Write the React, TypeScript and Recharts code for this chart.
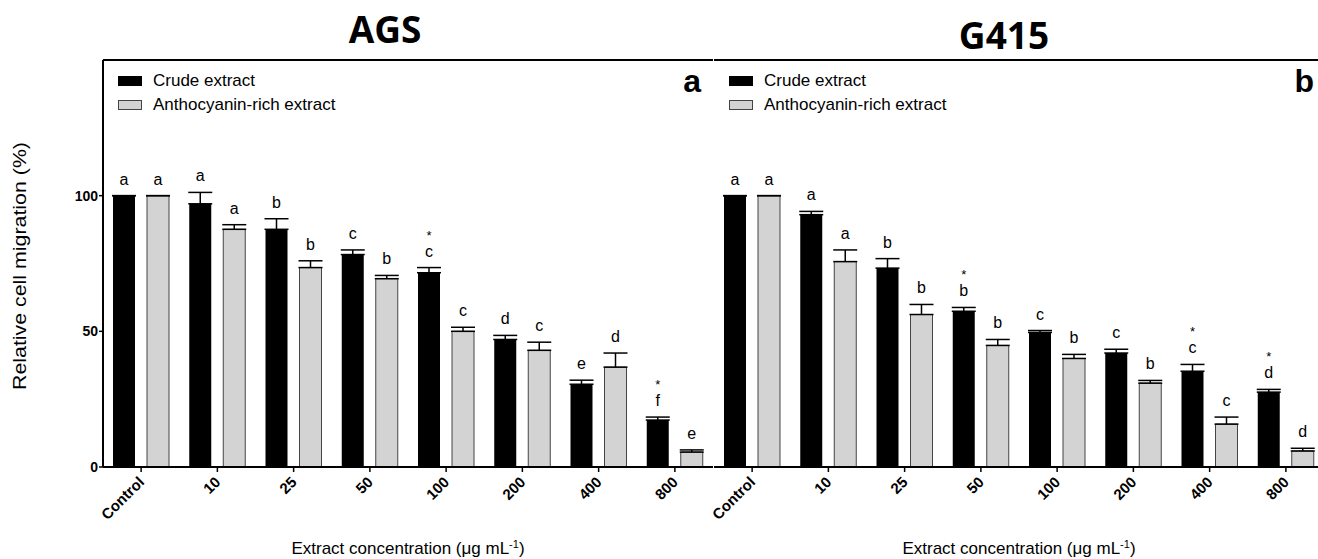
import React from 'react'
import { BarChart, Bar, XAxis, YAxis, ErrorBar, LabelList, Legend, ReferenceLine } from 'recharts'

const categories = ['Control', '10', '25', '50', '100', '200', '400', '800']
const yTicks = [0, 50, 100]
const seriesNames = ['Crude extract', 'Anthocyanin-rich extract']

// AGS
const agsCrude = [100, 97, 87.6, 78.3, 71.6, 47, 30.5, 17.3]
const agsCrudeErr = [0, 4.2, 3.9, 1.7, 1.9, 1.5, 1.5, 1.1]
const agsAntho = [100, 87.6, 73.5, 69.4, 50, 43, 36.8, 5.5]
const agsAnthoErr = [0, 1.7, 2.5, 1.2, 1.5, 3, 5.2, 0.8]
const agsCrudeLetters = ['a', 'a', 'b', 'c', 'c', 'd', 'e', 'f']
const agsAnthoLetters = ['a', 'a', 'b', 'b', 'c', 'c', 'd', 'e']
const agsCrudeStars = [false, false, false, false, true, false, false, true]

// G415
const g415Crude = [100, 93, 73.3, 57.4, 49.6, 42, 35.3, 27.6]
const g415CrudeErr = [0, 1.2, 3.5, 1.4, 0.7, 1.4, 2.5, 1]
const g415Antho = [100, 75.7, 56.2, 44.8, 40, 30.9, 15.8, 5.9]
const g415AnthoErr = [0, 4.3, 3.7, 2.2, 1.5, 1, 2.6, 1]
const g415CrudeLetters = ['a', 'a', 'b', 'b', 'c', 'c', 'c', 'd']
const g415AnthoLetters = ['a', 'a', 'b', 'b', 'b', 'b', 'c', 'd']
const g415CrudeStars = [false, false, false, true, false, false, true, true]

const FONT = '"Liberation Sans", Arial, sans-serif'
const GRAY = '#d3d3d3'

type Row = {
  cat: string
  crude: number
  crudeErr: number
  antho: number
  anthoErr: number
  crudeLetter: string
  anthoLetter: string
  crudeStar: boolean
}

function buildRows(crude: number[], crudeErr: number[], antho: number[], anthoErr: number[],
  crudeLetters: string[], anthoLetters: string[], crudeStars: boolean[]): Row[] {
  return categories.map((cat, i) => ({
    cat,
    crude: crude[i],
    crudeErr: crudeErr[i],
    antho: antho[i],
    anthoErr: anthoErr[i],
    crudeLetter: crudeLetters[i],
    anthoLetter: anthoLetters[i],
    crudeStar: crudeStars[i],
  }))
}

const agsRows = buildRows(agsCrude, agsCrudeErr, agsAntho, agsAnthoErr, agsCrudeLetters, agsAnthoLetters, agsCrudeStars)
const g415Rows = buildRows(g415Crude, g415CrudeErr, g415Antho, g415AnthoErr, g415CrudeLetters, g415AnthoLetters, g415CrudeStars)

// letter (and optional asterisk) sitting above the error bar cap
const letterLabel = (rows: Row[], series: 'crude' | 'antho') => (props: any) => {
  const vb = props.viewBox && props.viewBox.width != null ? props.viewBox : props
  const { x, y, width, height } = vb
  const row = rows[props.index]
  if (!row) return null
  const val = row[series]
  const err = series === 'crude' ? row.crudeErr : row.anthoErr
  const pxPerUnit = Math.abs(height) / val
  const capY = y - err * pxPerUnit
  const cx = x + width / 2
  const letter = series === 'crude' ? row.crudeLetter : row.anthoLetter
  const star = series === 'crude' && row.crudeStar
  return (
    <g>
      <text x={cx} y={capY - 11} textAnchor="middle" fontSize={16} fontFamily={FONT} fill="#000">{letter}</text>
      {star && <text x={cx} y={capY - 28} textAnchor="middle" fontSize={13} fontFamily={FONT} fill="#000">*</text>}
    </g>
  )
}

const XTick = (props: any) => {
  const { x, y, payload } = props
  const ax = x + 4
  const ay = y + 9
  return (
    <text x={ax} y={ay} transform={`rotate(-45, ${ax}, ${ay})`} textAnchor="end"
      fontSize={15} fontWeight="bold" fontFamily={FONT} fill="#000">{payload.value}</text>
  )
}

const legendContent = (props: any) => {
  const items = [...(props.payload || [])].sort(
    (a: any, b: any) => seriesNames.indexOf(a.value) - seriesNames.indexOf(b.value))
  return (
    <div style={{ fontFamily: FONT, fontSize: 17, color: '#000' }}>
      {items.map((it: any) => {
        const crude = it.value === seriesNames[0]
        return (
          <div key={it.value} style={{ display: 'flex', alignItems: 'center', height: 24 }}>
            <span style={{
              display: 'inline-block', width: 24, height: 10, boxSizing: 'border-box',
              background: crude ? '#000' : GRAY, border: crude ? 'none' : '1px solid #444', marginRight: 11,
            }} />
            <span style={{ whiteSpace: 'nowrap' }}>{it.value}</span>
          </div>
        )
      })}
    </div>
  )
}

function Panel({ rows, left, width, marginLeft, marginRight, yAxisWidth, showY }: {
  rows: Row[]; left: number; width: number; marginLeft: number; marginRight: number; yAxisWidth: number; showY: boolean
}) {
  return (
    <div style={{ position: 'absolute', left, top: 0 }}>
      <BarChart width={width} height={559} data={rows}
        margin={{ top: 60, right: marginRight, bottom: 32, left: marginLeft }}
        barCategoryGap={10} barGap={12}>
        <XAxis dataKey="cat" height={60} interval={0} tick={<XTick />} tickSize={5}
          axisLine={{ stroke: '#000', strokeWidth: 2 }} tickLine={{ stroke: '#000', strokeWidth: 1.5 }} />
        <YAxis width={yAxisWidth} domain={[0, 150]} ticks={yTicks} allowDataOverflow
          tick={showY ? { fontSize: 14, fontWeight: 'bold', fontFamily: FONT, fill: '#000' } : false}
          tickLine={showY ? { stroke: '#000', strokeWidth: 1.5 } : false} tickSize={4} tickMargin={1}
          axisLine={{ stroke: '#000', strokeWidth: 2 }} />
        <ReferenceLine y={150} stroke="#000" strokeWidth={2} />
        <Legend layout="vertical" align="center" verticalAlign="middle" content={legendContent}
          wrapperStyle={{ left: marginLeft + yAxisWidth + 15, top: 69, width: 300 }} />
        <Bar dataKey="crude" name={seriesNames[0]} fill="#000" isAnimationActive={false}>
          <ErrorBar dataKey={(d: Row) => [0, d.crudeErr]} width={12} stroke="#000" strokeWidth={1.5} direction="y" />
          <LabelList dataKey="crudeLetter" content={letterLabel(rows, 'crude')} />
        </Bar>
        <Bar dataKey="antho" name={seriesNames[1]} fill={GRAY} stroke="#444" strokeWidth={1} isAnimationActive={false}>
          <ErrorBar dataKey={(d: Row) => [0, d.anthoErr]} width={12} stroke="#000" strokeWidth={1.5} direction="y" />
          <LabelList dataKey="anthoLetter" content={letterLabel(rows, 'antho')} />
        </Bar>
      </BarChart>
    </div>
  )
}

export default function App() {
  return (
    <div style={{ position: 'absolute', left: 0, top: 0, width: 1318, height: 559, overflow: 'hidden', background: '#fff' }}>
      <Panel rows={agsRows} left={0} width={714} marginLeft={63} marginRight={1} yAxisWidth={40} showY />
      <Panel rows={g415Rows} left={654} width={680} marginLeft={60} marginRight={10} yAxisWidth={0} showY={false} />
      <svg width={1318} height={559} style={{ position: 'absolute', left: 0, top: 0, pointerEvents: 'none' }}>
        <text x={385} y={43} textAnchor="middle" fontSize={37} fontWeight="bold" fontFamily='"Open Sans", sans-serif'>AGS</text>
        <text x={1004} y={49} textAnchor="middle" fontSize={37} fontWeight="bold" fontFamily='"Open Sans", sans-serif'>G415</text>
        <text x={701} y={92} textAnchor="end" fontSize={32} fontWeight="bold" fontFamily={FONT}>a</text>
        <text x={1314} y={92} textAnchor="end" fontSize={32} fontWeight="bold" fontFamily={FONT}>b</text>
        <text transform="translate(26,266) rotate(-90)" textAnchor="middle" fontSize={18} fontFamily={FONT}
          textLength={248} lengthAdjust="spacingAndGlyphs">Relative cell migration (%)</text>
        {[408, 1019].map((cx) => (
          <text key={cx} x={cx} y={554} textAnchor="middle" fontSize={17} fontFamily={FONT}>
            Extract concentration (μg mL<tspan dy={-6} fontSize={11}>-1</tspan><tspan dy={6}>)</tspan>
          </text>
        ))}
      </svg>
    </div>
  )
}
